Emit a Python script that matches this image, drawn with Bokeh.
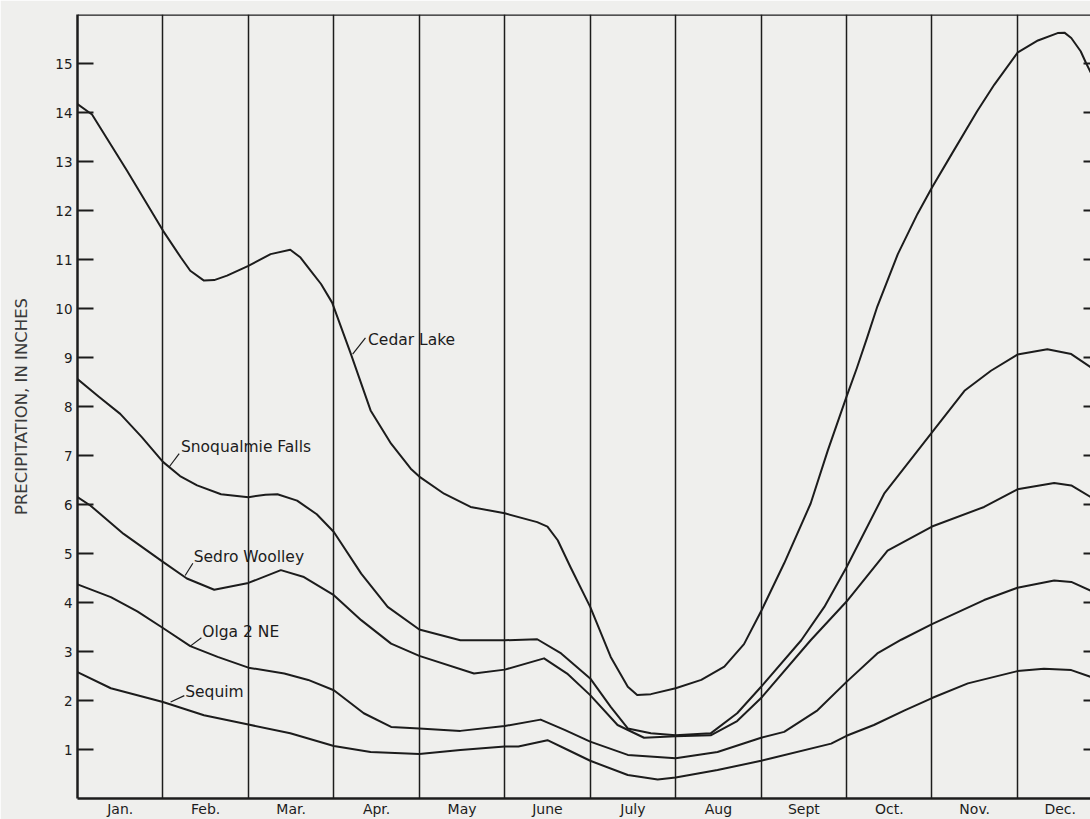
from bokeh.plotting import figure
from bokeh.models import Range1d, FixedTicker, Span
from bokeh.embed import file_html
from bokeh.resources import INLINE
from bokeh.core.properties import value

# ---------------- data ----------------
month_labels = ["Jan.", "Feb.", "Mar.", "Apr.", "May", "June",
                "July", "Aug", "Sept", "Oct.", "Nov.", "Dec."]
y_ticks = list(range(1, 16))

cedar_x = [0.00, 0.17, 0.58, 1.00, 1.21, 1.32, 1.48, 1.60, 1.75, 2.00, 2.26, 2.49,
           2.61, 2.73, 2.85, 2.98, 3.20, 3.43, 3.67, 3.90, 4.00, 4.29, 4.60, 5.00,
           5.38, 5.50, 5.62, 5.77, 6.00, 6.24, 6.44, 6.55, 6.71, 7.00, 7.30, 7.57,
           7.80, 8.00, 8.27, 8.58, 8.78, 9.00, 9.12, 9.24, 9.36, 9.60, 9.83, 10.00,
           10.22, 10.53, 10.73, 11.00, 11.24, 11.47, 11.55, 11.63, 11.74, 11.80,
           11.86]
cedar_y = [14.17, 13.96, 12.81, 11.59, 11.04, 10.77, 10.57, 10.58, 10.67, 10.87, 11.11, 11.20,
           11.04, 10.77, 10.50, 10.12, 9.07, 7.92, 7.24, 6.73, 6.57, 6.22, 5.95, 5.82,
           5.64, 5.55, 5.27, 4.72, 3.91, 2.89, 2.28, 2.11, 2.13, 2.25, 2.42, 2.69,
           3.15, 3.82, 4.80, 6.02, 7.10, 8.20, 8.78, 9.40, 10.04, 11.11, 11.93, 12.47,
           13.12, 14.03, 14.57, 15.22, 15.47, 15.62, 15.63, 15.52, 15.25, 15.02,
           14.81]

snoq_x = [0.00, 0.25, 0.50, 0.75, 1.00, 1.20, 1.40, 1.68, 2.00, 2.20, 2.34, 2.57,
          2.80, 3.00, 3.32, 3.63, 4.00, 4.48, 5.00, 5.38, 5.66, 6.00, 6.24, 6.44,
          6.71, 7.00, 7.41, 7.72, 8.00, 8.47, 8.74, 9.00, 9.44, 10.00, 10.38,
          10.69, 11.00, 11.35, 11.63, 11.86]
snoq_y = [8.56, 8.20, 7.85, 7.38, 6.87, 6.58, 6.39, 6.21, 6.15, 6.20, 6.21, 6.08,
          5.80, 5.44, 4.59, 3.91, 3.45, 3.23, 3.23, 3.25, 2.96, 2.45, 1.87, 1.43,
          1.33, 1.29, 1.33, 1.74, 2.28, 3.23, 3.91, 4.72, 6.22, 7.47, 8.32,
          8.73, 9.06, 9.17, 9.07, 8.80]

sedro_x = [0.00, 0.15, 0.54, 1.00, 1.28, 1.60, 2.00, 2.38, 2.65, 3.00, 3.32, 3.67,
           4.00, 4.64, 5.00, 5.46, 5.73, 6.00, 6.32, 6.63, 7.00, 7.41, 7.72, 8.00,
           8.58, 9.00, 9.48, 10.00, 10.61, 11.00, 11.43, 11.63, 11.86]
sedro_y = [6.15, 5.98, 5.40, 4.83, 4.49, 4.26, 4.40, 4.66, 4.52, 4.15, 3.64, 3.16,
           2.91, 2.55, 2.63, 2.86, 2.55, 2.11, 1.50, 1.24, 1.27, 1.29, 1.58, 2.05,
           3.23, 4.02, 5.06, 5.55, 5.95, 6.31, 6.44, 6.39, 6.15]

olga_x = [0.00, 0.39, 0.70, 1.00, 1.32, 1.64, 2.00, 2.42, 2.70, 3.00, 3.35, 3.67,
          4.00, 4.48, 5.00, 5.42, 5.70, 6.00, 6.44, 7.00, 7.49, 8.00, 8.27, 8.66,
          9.00, 9.36, 9.64, 10.00, 10.61, 11.00, 11.43, 11.63, 11.86]
olga_y = [4.37, 4.11, 3.82, 3.48, 3.11, 2.89, 2.67, 2.55, 2.42, 2.21, 1.74, 1.46,
          1.43, 1.38, 1.48, 1.61, 1.40, 1.16, 0.89, 0.82, 0.95, 1.24, 1.36, 1.80,
          2.38, 2.96, 3.24, 3.56, 4.05, 4.30, 4.45, 4.42, 4.24]

sequim_x = [0.00, 0.39, 1.00, 1.48, 2.00, 2.49, 3.00, 3.43, 4.00, 4.48, 5.00, 5.16,
            5.50, 5.74, 6.00, 6.44, 6.79, 7.00, 7.49, 8.00, 8.12, 8.82, 9.00, 9.32,
            9.68, 10.00, 10.42, 11.00, 11.31, 11.63, 11.86]
sequim_y = [2.58, 2.25, 1.97, 1.70, 1.51, 1.33, 1.07, 0.95, 0.91, 0.99, 1.06, 1.06,
            1.19, 0.99, 0.77, 0.48, 0.39, 0.43, 0.58, 0.77, 0.82, 1.12, 1.28, 1.50,
            1.80, 2.05, 2.35, 2.60, 2.65, 2.62, 2.48]

station_names = ["Cedar Lake", "Snoqualmie Falls", "Sedro Woolley", "Olga 2 NE", "Sequim"]
label_x = [3.40, 1.21, 1.36, 1.46, 1.26]
label_y = [9.35, 7.18, 4.92, 3.39, 2.18]
leader_x0 = [3.22, 1.07, 1.26, 1.32, 1.09]
leader_y0 = [9.07, 6.76, 4.55, 3.11, 1.97]
leader_x1 = [3.37, 1.19, 1.35, 1.45, 1.25]
leader_y1 = [9.40, 7.04, 4.80, 3.28, 2.10]

# ---------------- styling / layout ----------------
BG = "#efefed"
INK = "#1c1c1c"
FONT = "DejaVu Sans"
W, H = 1090, 819
LEFT, TOP, BOTTOM = 77, 14, 21
X_END = 11.855
frame_w = W - LEFT
right_tick_dx = 7 * X_END / frame_w   # 7 px inward ticks at the right edge

p = figure(width=W, height=H, output_backend="svg", toolbar_location=None,
           x_range=Range1d(0, X_END), y_range=Range1d(0, 16),
           min_border_left=LEFT, min_border_right=0, min_border_top=TOP,
           min_border_bottom=BOTTOM)
p.background_fill_color = BG
p.border_fill_color = BG
p.outline_line_color = None

# bottom axis: month names centred in each month
xa = p.xaxis[0]
xa.ticker = FixedTicker(ticks=[i + 0.5 for i in range(len(month_labels))])
xa.major_label_overrides = {i + 0.5: m for i, m in enumerate(month_labels)}
xa.major_tick_in = 0
xa.major_tick_out = 0
xa.minor_tick_in = 0
xa.minor_tick_out = 0
xa.axis_line_color = INK
xa.axis_line_width = 2.5
xa.major_label_text_font = FONT
xa.major_label_text_font_size = "14px"
xa.major_label_text_color = INK
xa.major_label_standoff = 2

# left axis
ya = p.yaxis[0]
ya.ticker = FixedTicker(ticks=y_ticks)
ya.major_tick_in = 16
ya.major_tick_out = 0
ya.minor_tick_in = 0
ya.minor_tick_out = 0
ya.major_tick_line_width = 2
ya.major_tick_line_color = INK
ya.axis_line_color = INK
ya.axis_line_width = 2.5
ya.major_label_text_font = FONT
ya.major_label_text_font_size = "13.5px"
ya.major_label_text_color = INK
ya.major_label_standoff = 5
ya.axis_label = "PRECIPITATION, IN INCHES"
ya.axis_label_text_font = FONT
ya.axis_label_text_font_size = "16.5px"
ya.axis_label_text_font_style = "normal"
ya.axis_label_text_color = "#3a3a3a"
ya.axis_label_standoff = 21

# vertical month boundaries
p.xgrid.ticker = FixedTicker(ticks=list(range(1, 12)))
p.xgrid.grid_line_color = INK
p.xgrid.grid_line_width = 1.5
p.ygrid.grid_line_color = None

# top border
p.add_layout(Span(location=16, dimension="width", line_color=INK, line_width=2.5))

# inward ticks along the (cropped) right edge
p.segment(x0=[X_END - right_tick_dx] * len(y_ticks), y0=y_ticks,
          x1=[X_END] * len(y_ticks), y1=y_ticks, line_color=INK, line_width=2)

# curves
for xs, ys in [(cedar_x, cedar_y), (snoq_x, snoq_y), (sedro_x, sedro_y),
               (olga_x, olga_y), (sequim_x, sequim_y)]:
    p.line(xs, ys, line_color=INK, line_width=2, line_join="round")

# labels with leader lines
p.segment(x0=leader_x0, y0=leader_y0, x1=leader_x1, y1=leader_y1,
          line_color=INK, line_width=1.2)
p.text(x=label_x, y=label_y, text=station_names, text_font=value(FONT),
       text_font_size="15.5px", text_color=INK, text_align="left",
       text_baseline="middle")

open("out.html", "w").write(file_html(p, INLINE))
